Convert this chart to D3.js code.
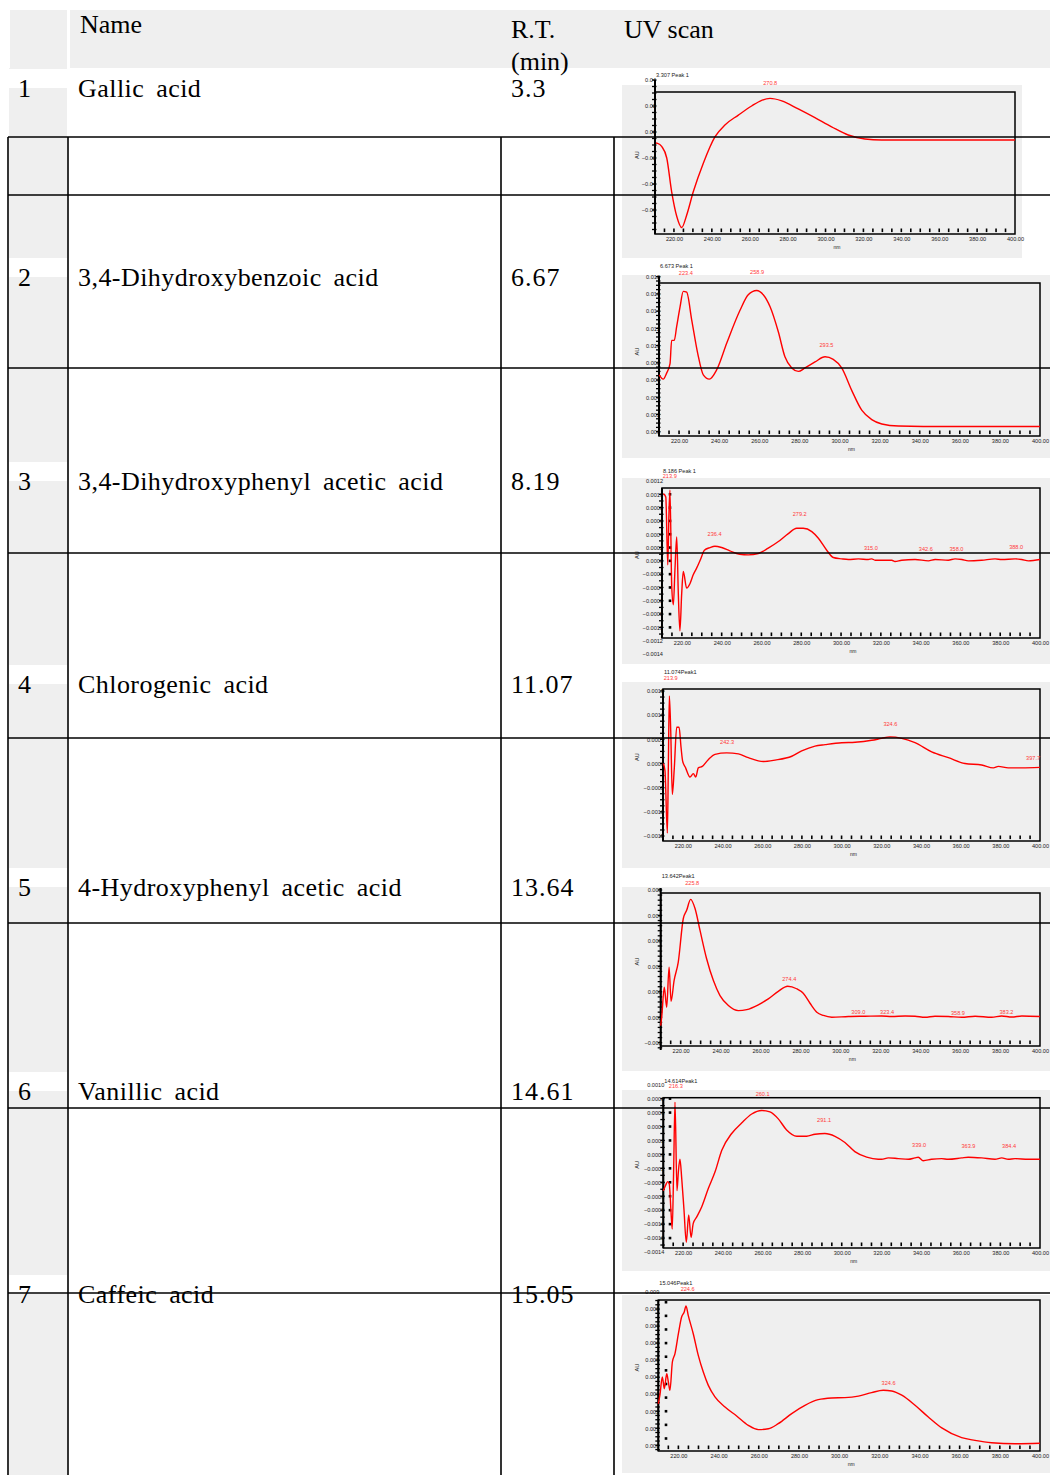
<!DOCTYPE html>
<html><head><meta charset="utf-8">
<script src="https://cdn.jsdelivr.net/npm/d3@7"></script>
<style>body{margin:0;background:#fff}svg{display:block}</style>
</head><body>
<svg id="c" width="1050" height="1475"></svg>
<script>
// ---------------- DATA ----------------
const headerLabels = ["Name", "R.T.", "(min)", "UV scan"];
const rowNumbers = ["1", "2", "3", "4", "5", "6", "7"];
const compoundNames = ["Gallic acid", "3,4-Dihydroxybenzoic acid", "3,4-Dihydroxyphenyl acetic acid",
  "Chlorogenic acid", "4-Hydroxyphenyl acetic acid", "Vanillic acid", "Caffeic acid"];
const retentionTimes = ["3.3", "6.67", "8.19", "11.07", "13.64", "14.61", "15.05"];
const peakTitles = ["3.307 Peak 1", "6.673 Peak 1", "8.186 Peak 1", "11.074Peak1", "13.642Peak1", "14.614Peak1", "15.046Peak1"];

const xDomain = [210, 400];
const xTickValues = [220, 240, 260, 280, 300, 320, 340, 360, 380, 400];

const scanGallic = [[210.5,-0.0085],[211.4,-0.0087],[213.5,-0.011],[216.2,-0.020],[218.8,-0.046],[221.5,-0.065],[224.1,-0.0735],[226.7,-0.064],[230.2,-0.046],[235.5,-0.024],[241.7,-0.0036],[246.9,0.0054],[254,0.013],[261,0.020],[266.3,0.0244],[270.7,0.0259],[276.9,0.024],[285.6,0.0177],[294.4,0.011],[303.2,0.004],[312,-0.0023],[320.8,-0.0054],[329.6,-0.0062],[364.8,-0.0062],[400,-0.0062]];
const scanDihydroxybenzoic = [[210.1,0.0066],[212.1,0.0061],[213.8,0.0068],[215.5,0.0079],[216.3,0.0106],[217.6,0.0106],[218.8,0.0122],[220.5,0.0145],[222.1,0.0163],[223.8,0.0162],[226.3,0.0130],[229.3,0.0091],[232.1,0.0066],[235.1,0.0061],[238.8,0.0072],[243.8,0.0103],[250.4,0.0141],[254.5,0.0159],[258.7,0.0164],[262,0.0159],[265.4,0.0145],[269.5,0.0116],[272.8,0.0087],[276.2,0.0074],[279.5,0.0070],[282.8,0.0074],[287.8,0.0081],[292.8,0.0087],[296.9,0.0084],[301.1,0.0074],[306.1,0.0048],[311.1,0.0025],[316.1,0.0014],[321.1,0.0009],[329.4,0.00066],[354.3,0.0006],[400,0.0006]];
const scanDihydroxyphenylacetic = [[210.7,0.00101],[211.9,0.00096],[212.9,-0.00006],[213.5,0.00071],[214,0.00106],[214.9,-0.00039],[215.7,-0.00066],[216.5,-0.00014],[217.4,0.00036],[218.2,-0.00049],[219,-0.00105],[219.9,-0.00049],[220.7,-0.00016],[222.4,-0.00041],[224.1,-0.00034],[225.7,-0.00021],[227.4,-0.00011],[229.6,0.00004],[231.3,0.00016],[234.1,0.0002],[236.6,0.00022],[240,0.0002],[244.1,0.00015],[249.1,0.0001],[253.4,0.00009],[258.4,0.00011],[263.4,0.00019],[268.5,0.00029],[273.5,0.00041],[277.7,0.00049],[281,0.00049],[285.3,0.00044],[288.6,0.00034],[292.8,0.00016],[296.1,0.00005],[300.3,0.00003],[303.7,0.00002],[308.7,0.00003],[313.7,0.00002],[315.4,0.00003],[317.1,0.00001],[325.5,0.00001],[327.1,-0.00001],[330.5,0.00001],[337.2,0.00002],[343.9,0.0],[347.3,0.00002],[353.9,0.00001],[357.3,0.00003],[360.7,0.00002],[364,0.0],[370.7,0.00001],[377.4,0.00003],[380.8,0.00002],[387.5,0.00003],[390.8,0.00002],[394.2,0.0],[400,0.00002]];
const scanChlorogenic = [[210.2,0.0],[211,-0.00015],[212.2,-0.00144],[212.7,-0.00002],[213.2,0.0014],[213.9,0.00067],[214.7,-0.00064],[215.7,-0.00009],[216.9,0.00075],[218.1,0.00075],[219.1,0.00033],[219.9,0.00005],[221.4,-0.00009],[223.6,-0.00028],[225.3,-0.00021],[226.5,-0.00028],[227.8,-0.00009],[229.8,-0.00006],[232.8,0.00008],[236.2,0.00019],[242.1,0.00022],[248,0.0002],[253,0.00012],[260.6,0.00004],[266.5,0.00007],[274.9,0.00015],[279.9,0.00026],[286.6,0.00036],[291.7,0.00039],[300.1,0.00043],[306.8,0.00044],[315.2,0.00048],[320.2,0.00052],[324.4,0.00055],[330.3,0.00052],[337,0.00043],[345.4,0.00024],[353.8,0.00012],[362.2,0.0],[370.6,-0.00003],[376.5,-0.00009],[379,-0.00006],[384,-0.00009],[390.8,-0.00009],[400,-0.00008]];
const scanHydroxyphenylacetic = [[210,-0.00033],[210.5,0.0],[211.8,0.00118],[213,0.00039],[214.2,0.00197],[215.2,0.00063],[216.7,0.00144],[218.8,0.00217],[221.3,0.00387],[223,0.0042],[225,0.00463],[227.2,0.00427],[229.7,0.00341],[233,0.0023],[236.4,0.00144],[239.7,0.00085],[243.9,0.00046],[248.9,0.00026],[253.1,0.0003],[258.9,0.00049],[263.9,0.00072],[268.9,0.00102],[273.6,0.00122],[278.1,0.00112],[281.4,0.00094],[284.8,0.00055],[288.2,0.0002],[291.5,0.00007],[295.7,0.0],[304,0.00003],[312.4,0.00004],[320.7,0.00005],[325.7,0.00003],[332.4,0.00005],[337.4,0.00004],[342.4,0.0],[347.4,0.00004],[354.1,0.00003],[360.8,0.0],[367.5,0.00004],[375.8,0.0],[380.8,0.00005],[385.9,0.00001],[390.9,0.00005],[400,0.00003]];
const scanVanillic = [[210,-0.00052],[211.2,-0.00044],[212.2,-0.00039],[213,-0.00042],[213.9,-0.00083],[214.5,-0.00107],[215.2,-0.00025],[215.9,0.00075],[216.9,-0.00052],[217.6,-0.00025],[218.4,-0.00007],[219.3,-0.00035],[220.4,-0.00078],[221.6,-0.00126],[222.8,-0.00087],[224,-0.00119],[225.1,-0.00099],[226.8,-0.0009],[229.4,-0.00075],[232.7,-0.00049],[236.1,-0.00025],[239.5,0.00006],[244.5,0.0003],[249.5,0.00045],[254.6,0.00058],[259.6,0.00063],[263.8,0.00061],[268,0.00051],[272.2,0.00035],[277.3,0.00026],[282.3,0.00026],[286.5,0.00029],[291.5,0.0003],[296.6,0.00026],[301.6,0.00017],[306.6,0.00004],[312.6,-0.00004],[318.4,-0.00007],[320.1,-0.00007],[323.5,-0.00005],[328.5,-0.00006],[333.5,-0.00007],[336.9,-0.00005],[338.6,-0.00004],[341.1,-0.00009],[345.3,-0.00007],[350.4,-0.00006],[353.7,-0.00007],[360.5,-0.00005],[363.8,-0.00004],[370.6,-0.00005],[377.3,-0.00007],[380.7,-0.00005],[384,-0.00007],[387.4,-0.00006],[394.1,-0.00007],[400,-0.00007]];
const scanCaffeic = [[210,0.00244],[210.8,0.00294],[212,0.00401],[213,0.00332],[214.2,0.0042],[215,0.00372],[215.8,0.00323],[217,0.00489],[218.3,0.00538],[220,0.00655],[221.6,0.00753],[222.9,0.00783],[223.8,0.00818],[224.9,0.00763],[227.4,0.00655],[229.9,0.00528],[232.4,0.0043],[234.9,0.00352],[238.2,0.00284],[243.2,0.00225],[249,0.00172],[254.8,0.00117],[259.8,0.00092],[264.8,0.00097],[269.7,0.00127],[276.4,0.00186],[283,0.00235],[289.6,0.00268],[296.3,0.00278],[302.9,0.0028],[309.6,0.00289],[316.2,0.00309],[322,0.00323],[326.2,0.00319],[331.2,0.00294],[337.8,0.00235],[344.4,0.00166],[351.1,0.00102],[361,0.00045],[367.6,0.00029],[375.9,0.00015],[387.6,0.00009],[400,0.00012]];

const yTicksGallic = [-0.06, -0.04, -0.02, 0, 0.02, 0.04];
const yTicksDihydroxybenzoic = [0, 0.002, 0.004, 0.006, 0.008, 0.010, 0.012, 0.014, 0.016, 0.018];
const yTicksDihydroxyphenylacetic = [-0.0014, -0.0012, -0.0010, -0.0008, -0.0006, -0.0004, -0.0002, 0, 0.0002, 0.0004, 0.0006, 0.0008, 0.0010, 0.0012];
const yTicksChlorogenic = [-0.0015, -0.0010, -0.0005, 0, 0.0005, 0.0010, 0.0015];
const yTicksHydroxyphenylacetic = [-0.001, 0, 0.001, 0.002, 0.003, 0.004, 0.005];
const yTicksVanillic = [-0.0014, -0.0012, -0.0010, -0.0008, -0.0006, -0.0004, -0.0002, 0, 0.0002, 0.0004, 0.0006, 0.0008, 0.0010];
const yTicksCaffeic = [0, 0.001, 0.002, 0.003, 0.004, 0.005, 0.006, 0.007, 0.008, 0.009];
const yDecimals = [2, 3, 4, 4, 3, 4, 3];

// peak labels: [text, nm, AU]
const peaksGallic = [["270.8", 270.8, 0.0375]];
const peaksDihydroxybenzoic = [["223.4", 223.4, 0.0184], ["258.9", 258.9, 0.0185], ["293.5", 293.5, 0.0101]];
const peaksDihydroxyphenylacetic = [["213.9", 213.9, 0.00128], ["236.4", 236.4, 0.0004], ["279.2", 279.2, 0.0007], ["315.0", 315.0, 0.00019], ["342.6", 342.6, 0.00017], ["358.0", 358.0, 0.00017], ["388.0", 388.0, 0.0002]];
const peaksChlorogenic = [["213.9", 213.9, 0.00176], ["242.3", 242.3, 0.00045], ["324.6", 324.6, 0.00082], ["397.7", 396.5, 0.00012]];
const peaksHydroxyphenylacetic = [["225.8", 225.8, 0.00528], ["274.4", 274.4, 0.00151], ["309.0", 309.0, 0.00022], ["323.4", 323.4, 0.00022], ["358.9", 358.9, 0.00017], ["383.2", 383.2, 0.00022]];
const peaksVanillic = [["216.3", 216.3, 0.00098], ["260.1", 260.1, 0.00086], ["291.1", 291.1, 0.0005], ["339.0", 339.0, 0.00013], ["363.9", 363.9, 0.00012], ["384.4", 384.4, 0.00012]];
const peaksCaffeic = [["224.6", 224.6, 0.00916], ["324.6", 324.6, 0.00366]];

// dotted marker columns (AU values)
const markersDihydroxyphenylacetic = [0.0010, 0.0008, 0.0006, 0.0004, 0.0002, 0, -0.0002, -0.0004, -0.0006, -0.0008, -0.0010];
const markersVanillic = [0.0008, 0.0006, 0.0004, 0.0002, 0, -0.0002, -0.0004, -0.0006, -0.0008, -0.0010, -0.0012];
const markersCaffeic = [0.0084, 0.0076, 0.0068, 0.0060, 0.0052, 0.0044, 0.0036, 0.0028, 0.0020, 0.0012, 0.0004];

const scans = [scanGallic, scanDihydroxybenzoic, scanDihydroxyphenylacetic, scanChlorogenic, scanHydroxyphenylacetic, scanVanillic, scanCaffeic];
const yTickSets = [yTicksGallic, yTicksDihydroxybenzoic, yTicksDihydroxyphenylacetic, yTicksChlorogenic, yTicksHydroxyphenylacetic, yTicksVanillic, yTicksCaffeic];
const peakSets = [peaksGallic, peaksDihydroxybenzoic, peaksDihydroxyphenylacetic, peaksChlorogenic, peaksHydroxyphenylacetic, peaksVanillic, peaksCaffeic];
const markerSets = [null, null, markersDihydroxyphenylacetic, null, null, markersVanillic, markersCaffeic];

// ---------------- LAYOUT ----------------
const T = {
  headerY: [10, 68], numCol: [9, 67], headerGap: [67, 70],
  colLines: [8, 68, 501, 614], rowLines: [137, 195, 368, 553, 738, 923, 1108, 1293],
  lineTop: 137, bottom: 1475, right: 1050,
  baselines: [97, 286, 490, 693, 896, 1100, 1303], textX: [18, 78, 511],
  headerPos: [[80, 33], [511, 38], [511, 70], [624, 38]],
  letterSp: ["0px", "0.45px", "1px"], wordSp: ["0px", "5px", "0px"]
};
const boxes = [
  {panel: [622, 85, 1022, 258], frame: [655, 92, 1015, 234], tickPx: [210, 80], axis: [80, 234], sub: 4, mx: 0},
  {panel: [622, 275, 1050, 458], frame: [659, 283, 1040, 436], tickPx: [431.7, 276.7], axis: [276.7, 436], sub: 4, mx: 0},
  {panel: [622, 478, 1050, 664], frame: [662, 488, 1040, 638], tickPx: [654, 481], axis: [488, 638], sub: 2, mx: 670},
  {panel: [622, 682, 1050, 868], frame: [663, 689, 1040, 841], tickPx: [836, 691], axis: [689, 841], sub: 4, mx: 0},
  {panel: [622, 887, 1050, 1071], frame: [660.7, 893, 1040, 1046], tickPx: [1042.7, 890], axis: [888, 1050], sub: 5, mx: 0},
  {panel: [622, 1090, 1050, 1271], frame: [663.3, 1097.7, 1040, 1248], tickPx: [1252, 1084.7], axis: [1097.7, 1248], sub: 2, mx: 670},
  {panel: [622, 1295, 1050, 1473], frame: [658.3, 1300, 1040, 1451], tickPx: [1445.3, 1292], axis: [1300, 1451], sub: 4, mx: 666}
];

const svg = d3.select("#c");
const GREY = "#efefef";
const SERIF = "'Liberation Serif','Times New Roman',serif";
const SANS = "'Liberation Sans',Arial,sans-serif";

// ---------------- TABLE BACKGROUND ----------------
svg.append("rect").attr("x", 10).attr("y", T.headerY[0]).attr("width", T.right - 10).attr("height", T.headerY[1] - T.headerY[0]).attr("fill", GREY);
svg.append("rect").attr("x", T.headerGap[0]).attr("y", T.headerY[0]).attr("width", T.headerGap[1] - T.headerGap[0]).attr("height", T.headerY[1] - T.headerY[0]).attr("fill", "#fff");
svg.append("rect").attr("x", T.numCol[0]).attr("y", T.headerY[1]).attr("width", T.numCol[1] - T.numCol[0]).attr("height", T.bottom - T.headerY[1]).attr("fill", GREY);
svg.selectAll("rect.hl").data(T.baselines).enter().append("rect").attr("class", "hl")
  .attr("x", T.numCol[0]).attr("y", d => d - 28).attr("width", T.numCol[1] - T.numCol[0]).attr("height", 19).attr("fill", "#fff");

// ---------------- CHARTS ----------------
scans.forEach((scan, i) => {
  const b = boxes[i];
  const [fl, ft, fr, fb] = b.frame;
  const g = svg.append("g");
  g.append("rect").attr("x", b.panel[0]).attr("y", b.panel[1]).attr("width", b.panel[2] - b.panel[0]).attr("height", b.panel[3] - b.panel[1]).attr("fill", GREY);

  const x = d3.scaleLinear().domain(xDomain).range([fl, fr]);
  const ticks = yTickSets[i];
  const y = d3.scaleLinear().domain([d3.min(ticks), d3.max(ticks)]).range(b.tickPx);

  // title
  g.append("text").attr("x", fl + 1).attr("y", ft - 17).attr("dy", "0.35em").attr("font-family", SANS).attr("font-size", 5.6).attr("fill", "#222").text(peakTitles[i]);

  // frame
  g.append("rect").attr("x", fl).attr("y", ft).attr("width", fr - fl).attr("height", fb - ft).attr("fill", "none").attr("stroke", "#000").attr("stroke-width", 1.5);

  // y labels via d3 axis
  const ya = g.append("g").attr("transform", `translate(${fl},0)`)
    .call(d3.axisLeft(y).tickValues(ticks).tickSize(0).tickPadding(-1).tickFormat(d3.format("." + yDecimals[i] + "f")));
  ya.select(".domain").remove();
  ya.selectAll("text").attr("font-family", SANS).attr("font-size", 5.6).attr("fill", "#222");

  // y axis line + minor ticks
  g.append("line").attr("x1", fl).attr("x2", fl).attr("y1", b.axis[0]).attr("y2", b.axis[1]).attr("stroke", "#000").attr("stroke-width", 2);
  const step = ticks[1] - ticks[0];
  const minor = [];
  const lo = y.invert(b.axis[1]), hi = y.invert(b.axis[0]);
  const k0 = Math.ceil((lo - ticks[0]) / (step / b.sub) - 1e-6), k1 = Math.floor((hi - ticks[0]) / (step / b.sub) + 1e-6);
  for (let k = k0; k <= k1; k++) minor.push(ticks[0] + k * step / b.sub);
  g.selectAll("line.ym").data(minor).enter().append("line").attr("class", "ym")
    .attr("x1", fl - 3).attr("x2", fl + 1.5).attr("y1", d => y(d)).attr("y2", d => y(d)).attr("stroke", "#000").attr("stroke-width", 1.3);

  // AU label
  g.append("text").attr("transform", `translate(637,${(ft + fb) / 2 - 8}) rotate(-90)`).attr("text-anchor", "middle").attr("dy", "0.35em")
    .attr("font-family", SANS).attr("font-size", 5.6).attr("fill", "#222").text("AU");

  // x axis labels via d3 axis
  const xa = g.append("g").attr("transform", `translate(0,${fb})`)
    .call(d3.axisBottom(x).tickValues(xTickValues).tickSize(0).tickPadding(3.2).tickFormat(d3.format(".2f")));
  xa.select(".domain").remove();
  xa.selectAll("text").attr("font-family", SANS).attr("font-size", 5.6).attr("fill", "#222");
  g.append("text").attr("x", x(306)).attr("y", fb + 13).attr("dy", "0.35em").attr("text-anchor", "middle").attr("font-family", SANS).attr("font-size", 5).attr("fill", "#222").text("nm");

  // x minor ticks
  g.selectAll("rect.xm").data(d3.range(215, 400, 5)).enter().append("rect").attr("class", "xm")
    .attr("x", d => x(d) - 0.8).attr("y", fb - 5.5).attr("width", 1.6).attr("height", 3.6).attr("fill", "#000");

  // marker squares
  if (markerSets[i]) {
    g.selectAll("rect.mk").data(markerSets[i]).enter().append("rect").attr("class", "mk")
      .attr("x", b.mx - 1.3).attr("y", d => y(d) - 1.3).attr("width", 2.6).attr("height", 2.6).attr("fill", "#000");
  }

  // curve
  g.append("path").datum(scan).attr("fill", "none").attr("stroke", "#ff0000").attr("stroke-width", 1.4).attr("stroke-linejoin", "round")
    .attr("d", d3.line().x(d => x(d[0])).y(d => y(d[1])).curve(d3.curveMonotoneX));

  // peak labels
  g.selectAll("text.pk").data(peakSets[i]).enter().append("text").attr("class", "pk")
    .attr("x", d => x(d[1])).attr("y", d => y(d[2])).attr("dy", "0.35em").attr("text-anchor", "middle")
    .attr("font-family", SANS).attr("font-size", 5.6).attr("fill", "#ff3a3a").text(d => d[0]);
});

// ---------------- TABLE TEXT ----------------
svg.selectAll("text.hd").data(headerLabels).enter().append("text").attr("class", "hd")
  .attr("x", (d, i) => T.headerPos[i][0]).attr("y", (d, i) => T.headerPos[i][1])
  .attr("font-family", SERIF).attr("font-size", 26).attr("fill", "#000").text(d => d);
const cols = [rowNumbers, compoundNames, retentionTimes];
cols.forEach((arr, c) => {
  svg.selectAll("text.c" + c).data(arr).enter().append("text").attr("class", "c" + c)
    .attr("x", T.textX[c]).attr("y", (d, i) => T.baselines[i])
    .attr("font-family", SERIF).attr("font-size", 26).attr("fill", "#000")
    .style("letter-spacing", T.letterSp[c]).style("word-spacing", T.wordSp[c]).text(d => d);
});

// ---------------- TABLE LINES ----------------
svg.selectAll("line.hr").data(T.rowLines).enter().append("line").attr("class", "hr")
  .attr("x1", T.colLines[0]).attr("x2", T.right).attr("y1", d => d).attr("y2", d => d).attr("stroke", "#000").attr("stroke-width", 1.6);
svg.selectAll("line.vr").data(T.colLines).enter().append("line").attr("class", "vr")
  .attr("x1", d => d).attr("x2", d => d).attr("y1", T.lineTop).attr("y2", T.bottom).attr("stroke", "#000").attr("stroke-width", 1.6);
</script>
</body></html>
